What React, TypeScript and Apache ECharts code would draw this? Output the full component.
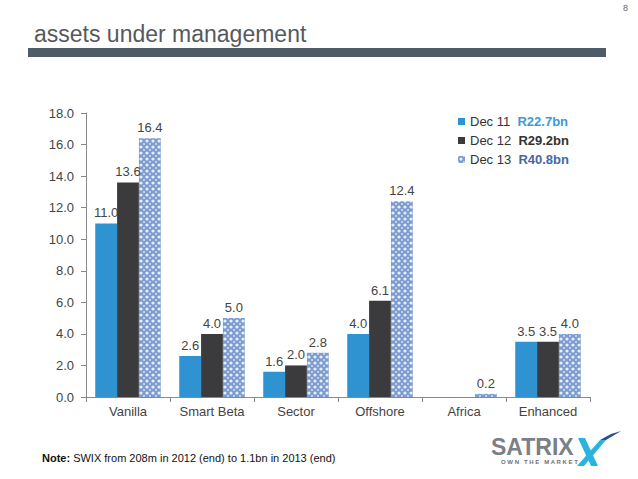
import React, { useEffect, useRef } from "react";
import * as echarts from "echarts";

const categories = ["Vanilla", "Smart Beta", "Sector", "Offshore", "Africa", "Enhanced"];
const dec11 = [11.0, 2.6, 1.6, 4.0, null, 3.5];
const dec12 = [13.6, 4.0, 2.0, 6.1, null, 3.5];
const dec13 = [16.4, 5.0, 2.8, 12.4, 0.2, 4.0];
const seriesNames = ["Dec 11", "Dec 12", "Dec 13"];
const totals = ["R22.7bn", "R29.2bn", "R40.8bn"];

function makePattern(): HTMLCanvasElement {
  const c = document.createElement("canvas");
  c.width = 6;
  c.height = 6;
  const ctx = c.getContext("2d")!;
  ctx.fillStyle = "#7c9bd0";
  ctx.fillRect(0, 0, 6, 6);
  ctx.fillStyle = "#e8eef8";
  ctx.beginPath();
  ctx.arc(3, 3, 1.6, 0, Math.PI * 2);
  ctx.fill();
  ctx.fillStyle = "#c4d3ec";
  ctx.fillRect(0, 0, 1, 1);
  ctx.fillRect(5, 5, 1, 1);
  ctx.fillRect(0, 5, 1, 1);
  ctx.fillRect(5, 0, 1, 1);
  return c;
}

export default function App() {
  const ref = useRef<HTMLDivElement>(null);
  useEffect(() => {
    if (!ref.current) return;
    const chart = echarts.init(ref.current, null, { renderer: "svg" });
    const font = "Liberation Sans, Arial, sans-serif";
    const pattern = makePattern();
    const label = {
      show: true,
      position: "top" as const,
      color: "#444",
      fontSize: 13,
      fontFamily: font,
      distance: 4,
      formatter: (p: any) => (p.value == null ? "" : Number(p.value).toFixed(1)),
    };
    chart.setOption({
      animation: false,
      textStyle: { fontFamily: font },
      grid: { left: 86, top: 113, right: 48, bottom: 82 },
      legend: {
        orient: "vertical",
        left: 453,
        top: 110,
        icon: "rect",
        itemWidth: 7,
        itemHeight: 7,
        itemGap: 6,
        data: seriesNames,
        formatter: (name: string) => {
          const i = seriesNames.indexOf(name);
          return `{n|${name}}  {t${i}|${totals[i]}}`;
        },
        textStyle: {
          fontFamily: font,
          fontSize: 13,
          color: "#333",
          rich: {
            n: { fontSize: 13, color: "#333", fontFamily: font },
            t0: { fontSize: 13, color: "#3a9ad9", fontWeight: "bold", fontFamily: font },
            t1: { fontSize: 13, color: "#333", fontWeight: "bold", fontFamily: font },
            t2: { fontSize: 13, color: "#3f6aa8", fontWeight: "bold", fontFamily: font },
          },
        },
      },
      xAxis: {
        type: "category",
        data: categories,
        axisLine: { lineStyle: { color: "#888" } },
        axisTick: { show: true, length: 5, lineStyle: { color: "#888" } },
        axisLabel: { color: "#444", fontSize: 13, margin: 8, interval: 0, fontFamily: font },
      },
      yAxis: {
        type: "value",
        min: 0,
        max: 18,
        interval: 2,
        axisLine: { show: true, lineStyle: { color: "#888" } },
        axisTick: { show: true, length: 5, lineStyle: { color: "#888" } },
        splitLine: { show: false },
        axisLabel: {
          color: "#444",
          fontSize: 13,
          margin: 12,
          fontFamily: font,
          formatter: (v: number) => v.toFixed(1),
        },
      },
      series: [
        {
          name: "Dec 11",
          type: "bar",
          data: dec11,
          barCategoryGap: "22%",
          barGap: "0%",
          itemStyle: { color: "#2f93d1" },
          label,
        },
        {
          name: "Dec 12",
          type: "bar",
          data: dec12,
          barGap: "0%",
          itemStyle: { color: "#3b3b3d" },
          label,
        },
        {
          name: "Dec 13",
          type: "bar",
          data: dec13,
          barGap: "0%",
          itemStyle: { color: { image: pattern, repeat: "repeat" } },
          label,
        },
      ],
      graphic: [
        {
          type: "text",
          left: 623,
          top: 3,
          style: { text: "8", fontSize: 9, fill: "#666", fontFamily: font },
        },
        {
          type: "text",
          left: 34,
          top: 22,
          style: {
            text: "assets under management",
            fontSize: 23,
            fill: "#55595e",
            fontFamily: font,
          },
        },
        {
          type: "rect",
          shape: { x: 28, y: 48, width: 578, height: 9 },
          style: { fill: "#4e5c6a" },
        },
        {
          type: "text",
          left: 42,
          top: 452,
          style: {
            text: "{b|Note:} SWIX from 208m in 2012 (end) to 1.1bn in 2013 (end)",
            fontSize: 11,
            fill: "#111",
            fontFamily: font,
            rich: {
              b: { fontWeight: "bold", fontSize: 11, fill: "#111", fontFamily: font },
            },
          },
        },
        {
          type: "text",
          left: 491,
          top: 435,
          style: {
            text: "SATRIX",
            fontSize: 23,
            fontWeight: "bold",
            fill: "#7b7f86",
            fontFamily: font,
          },
        },
        {
          type: "text",
          left: 501,
          top: 459,
          style: {
            text: "O W N   T H E   M A R K E T",
            fontSize: 6,
            fontWeight: "bold",
            fill: "#6b6f76",
            fontFamily: font,
          },
        },
        {
          type: "polygon",
          shape: { points: [[578, 438], [585, 438], [598, 466], [591, 466]] },
          style: { fill: "#2bb3e0" },
        },
        {
          type: "polygon",
          shape: { points: [[577, 466], [584, 466], [606, 440], [600, 440]] },
          style: { fill: "#2bb3e0" },
        },
        {
          type: "polygon",
          shape: { points: [[600, 440], [606, 440], [621, 431], [611, 434]] },
          style: { fill: "#2b4e8c" },
        },
      ],
    });
    return () => chart.dispose();
  }, []);
  return (
    <div
      ref={ref}
      style={{ position: "absolute", left: 0, top: 0, width: 638, height: 479, background: "#fff" }}
    />
  );
}
